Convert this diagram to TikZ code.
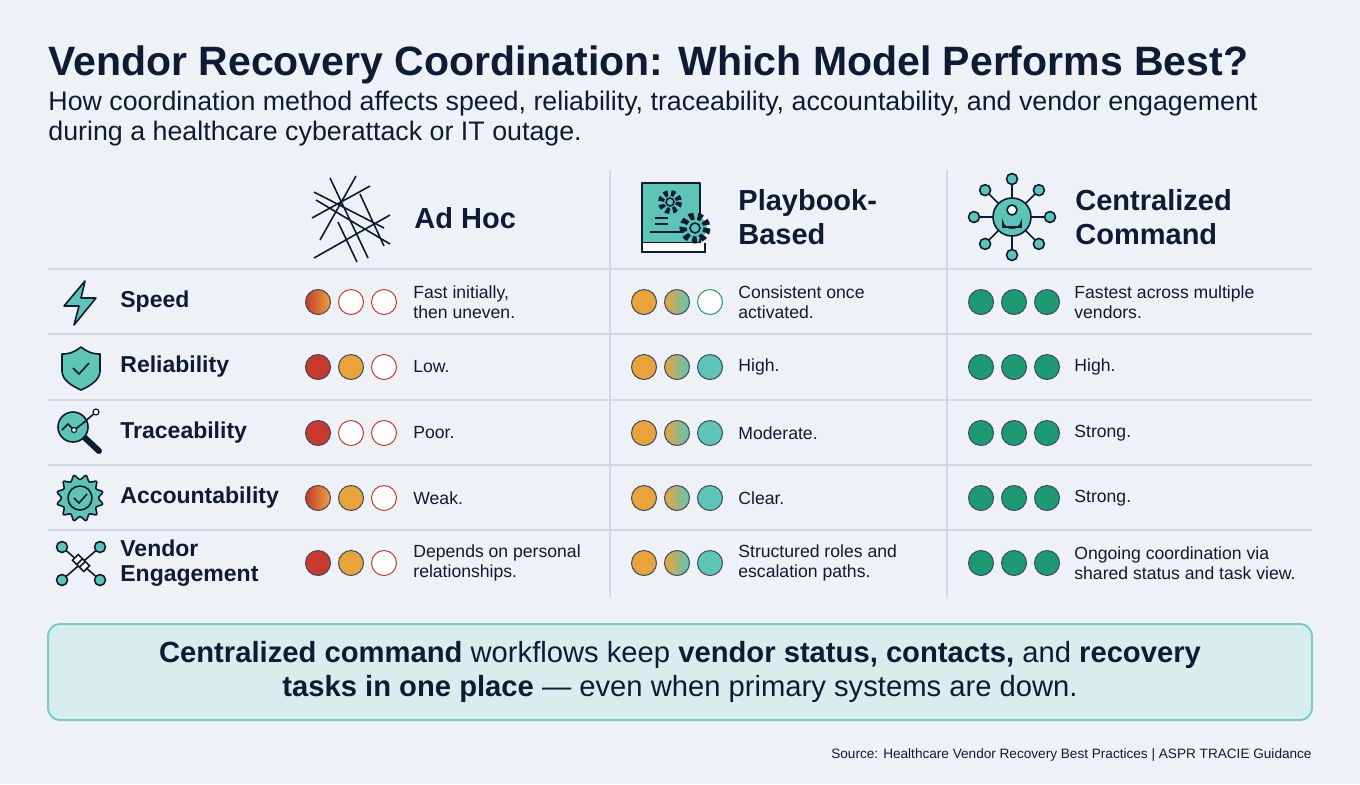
\documentclass[tikz,border=0pt]{standalone}
\usepackage{fontspec}
\setmainfont{Liberation Sans}
\usetikzlibrary{positioning,shapes.geometric}
\definecolor{bgc}{HTML}{EEF2F6}
\definecolor{inkc}{HTML}{0F1A33}
\definecolor{gridc}{HTML}{D3D8DE}
\definecolor{redc}{HTML}{C93A2E}
\definecolor{orgc}{HTML}{E8A33D}
\definecolor{tealc}{HTML}{5EC4B8}
\definecolor{grnc}{HTML}{1E9A72}
\definecolor{boxc}{HTML}{D8EEEC}
\definecolor{boxl}{HTML}{7CCBC3}
\tikzset{
  dot/.style={circle,minimum size=12.5pt,inner sep=0,draw=inkc!80,line width=0.5pt},
  rr/.style={fill=redc}, oo/.style={fill=orgc}, tt/.style={fill=tealc}, gg/.style={fill=grnc},
  ro/.style={left color=redc,right color=orgc},
  ot/.style={left color=orgc,right color=tealc},
  er/.style={fill=white,draw=redc}, et/.style={fill=white,draw=grnc},
  cell/.style={anchor=west,align=left,font=\fontsize{8.8}{10.2}\selectfont,text=inkc,inner sep=0},
  rowlab/.style={anchor=west,align=left,font=\fontsize{11.5}{12.5}\selectfont\bfseries,text=inkc,inner sep=0},
  colhead/.style={anchor=west,align=left,font=\fontsize{14.5}{17}\selectfont\bfseries,text=inkc,inner sep=0},
  icon/.style={draw=inkc,fill=tealc,line width=0.8pt,line join=round},
  grid/.style={draw=gridc,line width=0.8pt}
}
\begin{document}
\begin{tikzpicture}[x=0.5pt,y=-0.5pt]
\fill[bgc] (0,0) rectangle (1360,784);

% title
\node[anchor=base west,inner sep=0,font=\fontsize{20.5}{22}\selectfont\bfseries,text=inkc] (title) at (48,75) {Vendor Recovery Coordination: Which Model Performs Best?};
\node[anchor=north west,inner sep=0,align=left,font=\fontsize{13.4}{15}\selectfont,text=inkc] (sub) at (48,91) {How coordination method affects speed, reliability, traceability, accountability, and vendor engagement\\during a healthcare cyberattack or IT outage.};

% grid
\foreach \y in {269,334,400,465,530} \draw[grid] (48,\y) -- (1312,\y);
\foreach \x in {610,947} \draw[grid] (\x,170) -- (\x,597);

% column heads
\node[colhead] (hadhoc) at (414,218) {Ad Hoc};
\node[colhead] (hplay) at (738,217) {Playbook-\\Based};
\node[colhead] (hcent) at (1075,217) {Centralized\\Command};

% ad hoc icon
\draw[inkc,line width=0.8pt] (314,192) -- (384,228) (330,178) -- (368,258) (312,218) -- (370,186)
  (314,258) -- (390,215) (338,222) -- (357,262) (320,240) -- (356,176) (316,200) -- (390,244) (360,194) -- (384,246);
% playbook icon
\draw[icon] (642,183) rectangle (700,243);
\draw[inkc,line width=0.8pt,fill=white] (642,243) -- (642,252) -- (705,252) -- (705,243);
\draw[inkc,line width=0.8pt] (650,232) -- (700,232) (655,218) -- (668,218) (655,224) -- (668,224);
\draw[inkc,fill=tealc,line width=3pt,dash pattern=on 2pt off 1.6pt] (670,202) circle (9);
\draw[inkc,line width=0.8pt] (670,202) circle (4);
\draw[inkc,fill=tealc,line width=3.5pt,dash pattern=on 2.4pt off 1.8pt] (695,228) circle (12);
\draw[inkc,fill=tealc,line width=0.8pt] (695,228) circle (5);
% centralized icon
\foreach \a in {0,45,...,315} {
  \draw[inkc,line width=0.8pt] (1012,217) -- ++(\a:38);
  \draw[icon] (1012,217) ++(\a:38) circle (5.5);
}
\draw[icon] (1012,217) circle (19);
\draw[inkc,line width=0.8pt,fill=white] (1012,210) circle (5) (1003,227) -- (1003,223) arc (180:0:9 and 5) -- (1021,227) -- cycle;

% row labels and icons
\node[rowlab] (lspeed) at (120,302) {Speed};
\node[rowlab] (lrel) at (120,367) {Reliability};
\node[rowlab] (ltrace) at (120,433) {Traceability};
\node[rowlab] (lacc) at (120,498) {Accountability};
\node[rowlab] (lvend) at (120,563) {Vendor\\Engagement};
\draw[icon] (85,281) -- (64,306) -- (79,306) -- (74,325) -- (96,298) -- (81,298) -- cycle;
\draw[icon] (81,347) .. controls (72,354) and (66,354) .. (62,354) -- (62,371) .. controls (62,380) and (72,386) .. (81,390) .. controls (90,386) and (100,380) .. (100,371) -- (100,354) .. controls (96,354) and (90,354) .. cycle;
\draw[inkc,line width=0.8pt] (73,368) -- (79,374) -- (89,363);
\draw[inkc,line width=3pt,line cap=round] (83,436) -- (99,451);
\draw[icon] (73,427) circle (15);
\draw[inkc,line width=0.8pt] (62,430) -- (68,424) -- (74,430) -- (82,424) -- (96,412);
\fill[white,draw=inkc,line width=0.6pt] (74,430) circle (2.5) (96,412) circle (3);
\draw[icon] plot[smooth cycle,samples=24,domain=0:345] ({80+(21-2.5*(-1)^(\x/15))*cos(\x)},{498+(21-2.5*(-1)^(\x/15))*sin(\x)});
\draw[inkc,fill=tealc,line width=0.8pt] (80,498) circle (12);
\draw[inkc,line width=0.8pt] (74,498) -- (79,503) -- (87,494);
\draw[inkc,line width=0.8pt] (62,547) -- (100,580) (100,547) -- (62,580);
\foreach \p in {(62,547),(100,547),(62,580),(100,580)} \draw[icon] \p circle (5.5);
\draw[inkc,line width=0.8pt,fill=white,rotate around={-45:(81,563)}] (73,559) rectangle (83,567) (79,559) rectangle (89,567);

% ratings
\newcommand{\ratingrow}[6]{%
  \foreach \s [count=\i] in {#2} \node[dot,\s] (a#1\i) at (318+33*\i-33,#1) {};
  \foreach \s [count=\i] in {#3} \node[dot,\s] (p#1\i) at (644+33*\i-33,#1) {};
  \foreach \i in {1,2,3} \node[dot,gg] (c#1\i) at (981+33*\i-33,#1) {};
  \node[cell] at (413,#1) {#4};
  \node[cell] at (738,#1) {#5};
  \node[cell] at (1074,#1) {#6};}
\ratingrow{302}{ro,er,er}{oo,ot,et}{Fast initially,\\then uneven.}{Consistent once\\activated.}{Fastest across multiple\\vendors.}
\ratingrow{367}{rr,oo,er}{oo,ot,tt}{Low.}{High.}{High.}
\ratingrow{433}{rr,er,er}{oo,ot,tt}{Poor.}{Moderate.}{Strong.}
\ratingrow{498}{ro,oo,er}{oo,ot,tt}{Weak.}{Clear.}{Strong.}
\ratingrow{563}{rr,oo,er}{oo,ot,tt}{Depends on personal\\relationships.}{Structured roles and\\escalation paths.}{Ongoing coordination via\\shared status and task view.}

% takeaway
\node[draw=boxl,fill=boxc,line width=1pt,rounded corners=6,minimum width=632pt,minimum height=48pt,
  align=center,font=\fontsize{14.6}{17}\selectfont,text=inkc] (take) at (680,672)
  {\textbf{Centralized command} workflows keep \textbf{vendor status, contacts,} and \textbf{recovery}\\\textbf{tasks in one place} — even when primary systems are down.};
\node[anchor=base east,inner sep=0,font=\fontsize{6.8}{8}\selectfont,text=inkc] (src) at (1312,758) {Source: Healthcare Vendor Recovery Best Practices | ASPR TRACIE Guidance};
\end{tikzpicture}
\end{document}
